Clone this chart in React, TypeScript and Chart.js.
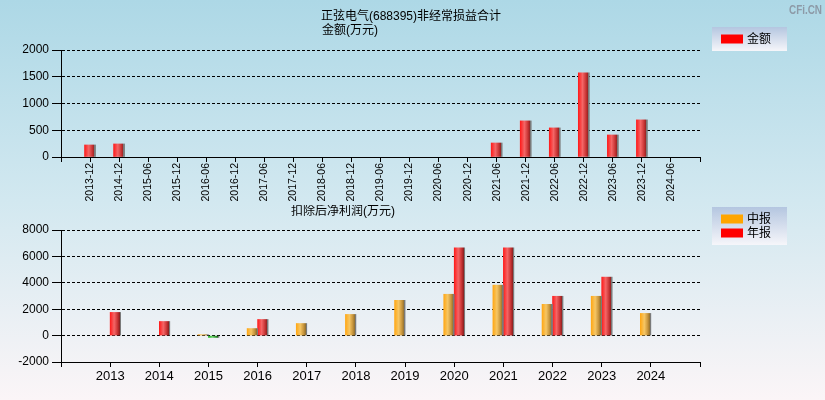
import React, { useEffect, useRef } from 'react';
import { Chart, registerables } from 'chart.js';
Chart.register(...registerables);

const FONT = '"Liberation Sans", Arial, "Noto Sans CJK SC", sans-serif';

// Top chart: 非经常损益合计 金额(万元)
const periods = ['2013-12', '2014-12', '2015-06', '2015-12', '2016-06', '2016-12', '2017-06', '2017-12', '2018-06', '2018-12', '2019-06', '2019-12', '2020-06', '2020-12', '2021-06', '2021-12', '2022-06', '2022-12', '2023-06', '2023-12', '2024-06'];
const nonRecurring = [225, 244, null, null, null, null, null, null, null, null, null, null, null, null, 262, 675, 544, 1575, 412, 694, null];
const topTicks = { min: 0, max: 2000, step: 500 };

// Bottom chart: 扣除后净利润(万元)
const years = ['2013', '2014', '2015', '2016', '2017', '2018', '2019', '2020', '2021', '2022', '2023', '2024'];
const interim = [null, null, 70, 535, 917, 1604, 2674, 3132, 3820, 2368, 2980, 1681];
const annual = [1757, 1070, -140, 1222, null, null, null, 6647, 6647, 2980, 4431, null];
const bottomTicks = { min: -2000, max: 8000, step: 2000 };

const palettes: Record<string, string[]> = {
  red: ['#ff1c1c', '#f46666', '#c93434', '#8e2020', '#7a7a7a'],
  orange: ['#ffa816', '#f6c664', '#c8953c', '#94712f', '#7a7a7a'],
  green: ['#22b822', '#66cf66', '#2e922e', '#1e661e', '#7a7a7a'],
};

function makeFill(name: string) {
  return (ctx: any) => {
    const chart = ctx.chart;
    const v = ctx.raw;
    const p = typeof v === 'number' && v < 0 ? palettes.green : palettes[name];
    const meta = chart.getDatasetMeta(ctx.datasetIndex);
    const el: any = meta && meta.data ? meta.data[ctx.dataIndex] : null;
    if (!el || !isFinite(el.x) || !isFinite(el.width) || !el.width) return p[0];
    const x0 = el.x - el.width / 2;
    const g = chart.ctx.createLinearGradient(x0, 0, x0 + el.width, 0);
    g.addColorStop(0, p[0]);
    g.addColorStop(0.38, p[1]);
    g.addColorStop(0.7, p[2]);
    g.addColorStop(0.9, p[3]);
    g.addColorStop(0.9, p[4]);
    g.addColorStop(1, p[4]);
    return g;
  };
}

const textPlugin = {
  id: 'texts',
  afterDraw(chart: any, _args: any, opts: any) {
    const c = chart.ctx;
    (opts.items || []).forEach((t: any) => {
      c.save();
      c.font = t.font;
      c.fillStyle = t.color || '#000';
      c.textAlign = t.align || 'left';
      c.textBaseline = 'middle';
      if (t.maxWidth) c.fillText(t.text, t.x, t.y, t.maxWidth);
      else c.fillText(t.text, t.x, t.y);
      c.restore();
    });
  },
};

const boxLegendPlugin = {
  id: 'boxLegend',
  afterDraw(chart: any, _args: any, opts: any) {
    if (!opts || !opts.box) return;
    const c = chart.ctx;
    const { x, y, w, h } = opts.box;
    c.save();
    const g = c.createLinearGradient(0, y, 0, y + h);
    g.addColorStop(0, '#b4c6e0');
    g.addColorStop(1, '#f6f6fa');
    c.fillStyle = g;
    c.fillRect(x, y, w, h);
    chart.data.datasets.forEach((ds: any, i: number) => {
      const cy = y + opts.firstY + i * opts.rowH;
      c.fillStyle = ds.legendColor;
      c.fillRect(x + 9, cy - 4.5, 22, 9);
      c.fillStyle = '#000';
      c.font = '12px ' + FONT;
      c.textBaseline = 'middle';
      c.textAlign = 'left';
      c.fillText(ds.label, x + 35, cy + 0.5);
    });
    c.restore();
  },
};

function baseScales(tk: { min: number; max: number; step: number }, xHeight: number, rotate: boolean, xFont: number) {
  return {
    x: {
      type: 'category' as const,
      offset: false,
      grid: { display: true, offset: false, drawOnChartArea: false, drawTicks: true, tickLength: 5, color: '#000', tickColor: '#000', lineWidth: 1 },
      border: { display: true, color: '#000', width: 1 },
      ticks: {
        autoSkip: false,
        maxRotation: rotate ? 90 : 0,
        minRotation: rotate ? 90 : 0,
        padding: rotate ? 1 : 2,
        color: '#000',
        font: { size: xFont, family: FONT },
      },
      afterFit: (s: any) => { s.height = xHeight; },
    },
    y: {
      min: tk.min,
      max: tk.max,
      ticks: {
        stepSize: tk.step,
        padding: 3,
        color: '#000',
        font: { size: 12, family: FONT },
        callback: (v: any) => String(v),
      },
      grid: { color: '#000', lineWidth: 1, drawTicks: true, tickLength: 9, tickColor: '#000' },
      border: { display: true, color: '#000', width: 1, dash: [3, 2] },
      afterFit: (s: any) => { s.width = 61; },
    },
  };
}

export default function App() {
  const topRef = useRef<HTMLCanvasElement>(null);
  const botRef = useRef<HTMLCanvasElement>(null);

  useEffect(() => {
    const c1 = new Chart(topRef.current as HTMLCanvasElement, {
      type: 'bar',
      data: {
        labels: ['', ...periods, ''],
        datasets: [
          {
            label: '金额',
            legendColor: '#ff0000',
            data: [null, ...nonRecurring, null],
            backgroundColor: makeFill('red'),
            borderWidth: 0,
            barThickness: 11,
          } as any,
        ],
      },
      options: {
        responsive: false,
        animation: false,
        layout: { padding: { left: 0, right: 125, top: 50, bottom: 0 } },
        scales: baseScales(topTicks, 48, true, 10.5) as any,
        plugins: {
          legend: { display: false },
          tooltip: { enabled: false },
          texts: {
            items: [
              { text: '正弦电气(688395)非经常损益合计', x: 411, y: 17, align: 'center', font: '12px ' + FONT },
              { text: '金额(万元)', x: 322, y: 31, align: 'left', font: '12px ' + FONT },
              { text: 'CFi.CN', x: 789, y: 10, align: 'left', font: 'bold 13px ' + FONT, color: '#8d9aa7', maxWidth: 33 },
            ],
          },
          boxLegend: { box: { x: 712, y: 27, w: 75, h: 24 }, firstY: 12, rowH: 14 },
        } as any,
      },
      plugins: [textPlugin, boxLegendPlugin],
    });
    c1.update();

    const c2 = new Chart(botRef.current as HTMLCanvasElement, {
      type: 'bar',
      data: {
        labels: ['', ...years, ''],
        datasets: [
          {
            label: '中报',
            legendColor: '#ffa500',
            data: [null, ...interim, null],
            backgroundColor: makeFill('orange'),
            borderWidth: 0,
            barThickness: 10.5,
          } as any,
          {
            label: '年报',
            legendColor: '#ff0000',
            data: [null, ...annual, null],
            backgroundColor: makeFill('red'),
            borderWidth: 0,
            barThickness: 10.5,
          } as any,
        ],
      },
      options: {
        responsive: false,
        animation: false,
        layout: { padding: { left: 0, right: 125, top: 25, bottom: 0 } },
        scales: baseScales(bottomTicks, 38, false, 13) as any,
        plugins: {
          legend: { display: false },
          tooltip: { enabled: false },
          texts: {
            items: [
              { text: '扣除后净利润(万元)', x: 343, y: 7, align: 'center', font: '12px ' + FONT },
            ],
          },
          boxLegend: { box: { x: 712, y: 2, w: 75, h: 38 }, firstY: 12, rowH: 14 },
        } as any,
      },
      plugins: [textPlugin, boxLegendPlugin],
    });
    c2.update();

    return () => {
      c1.destroy();
      c2.destroy();
    };
  }, []);

  return (
    <div
      style={{
        position: 'fixed',
        left: 0,
        top: 0,
        width: 825,
        height: 400,
        background: 'linear-gradient(to bottom, #add8e6 0%, #d2e8f0 50%, #fbf5f7 100%)',
      }}
    >
      <canvas ref={topRef} width={825} height={205} style={{ position: 'absolute', left: 0, top: 0, width: 825, height: 205 }} />
      <canvas ref={botRef} width={825} height={195} style={{ position: 'absolute', left: 0, top: 205, width: 825, height: 195 }} />
    </div>
  );
}
